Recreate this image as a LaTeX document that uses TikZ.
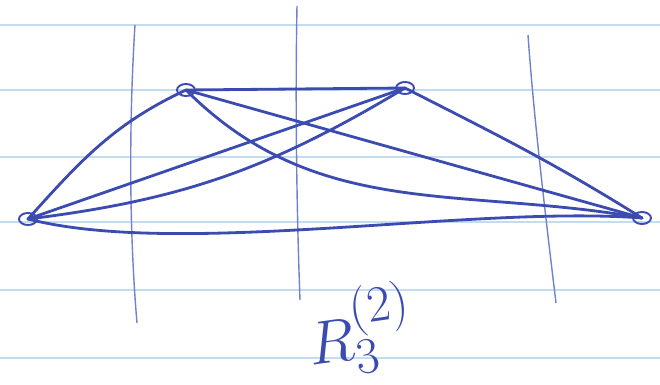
\documentclass[tikz,border=0pt]{standalone}
\usepackage{tikz}
\usetikzlibrary{shapes.geometric, positioning}
\usepackage{xcolor}
\definecolor{ink}{HTML}{3B4BB0}
\definecolor{inklight}{HTML}{6F82CF}
\definecolor{ruleblue}{HTML}{C4DCF0}

\begin{document}
\begin{tikzpicture}[
  x=0.02cm, y=-0.02cm,
  vertex/.style={ellipse, draw=ink, line width=1.1pt, minimum width=0.36cm,
    minimum height=0.24cm, inner sep=0pt},
  edge/.style={ink, line width=1.6pt, line cap=round},
  column/.style={inklight, line width=0.8pt},
  ruled/.style={ruleblue, line width=0.8pt},
]
  \useasboundingbox (0,0) rectangle (660,385);
  \foreach \y in {25,90,157,222,290,358}
    \draw[ruled] (0,\y) -- (660,\y);
  \draw[column] (135,25) .. controls (129,120) and (129,230) .. (137,323);
  \draw[column] (297,6) .. controls (295,110) and (297,220) .. (300,300);
  \draw[column] (528,35) .. controls (534,120) and (546,220) .. (556,303);
  \node[vertex] (a) at (28,219) {};
  \node[vertex] (b) at (186,90) {};
  \node[vertex] (c) at (405,88) {};
  \node[vertex] (d) at (642,218) {};
  \draw[edge] (a.center) to[out=48, in=205] (b.center);
  \draw[edge] (a.center) -- (c.center);
  \draw[edge] (a.center) to[out=7, in=211] (c.center);
  \draw[edge] (a.center) .. controls (180,258) and (470,205) .. (d.center);
  \draw[edge] (b.center) -- (c.center);
  \draw[edge] (b.center) -- (d.center);
  \draw[edge] (b.center) to[out=-45, in=170] (d.center);
  \draw[edge] (c.center) to[out=-27, in=148] (d.center);
  \node[font=\Huge, text=ink, scale=1.4, rotate=8] (label) at (360,330)
    {$R^{(2)}_3$};
\end{tikzpicture}
\end{document}
